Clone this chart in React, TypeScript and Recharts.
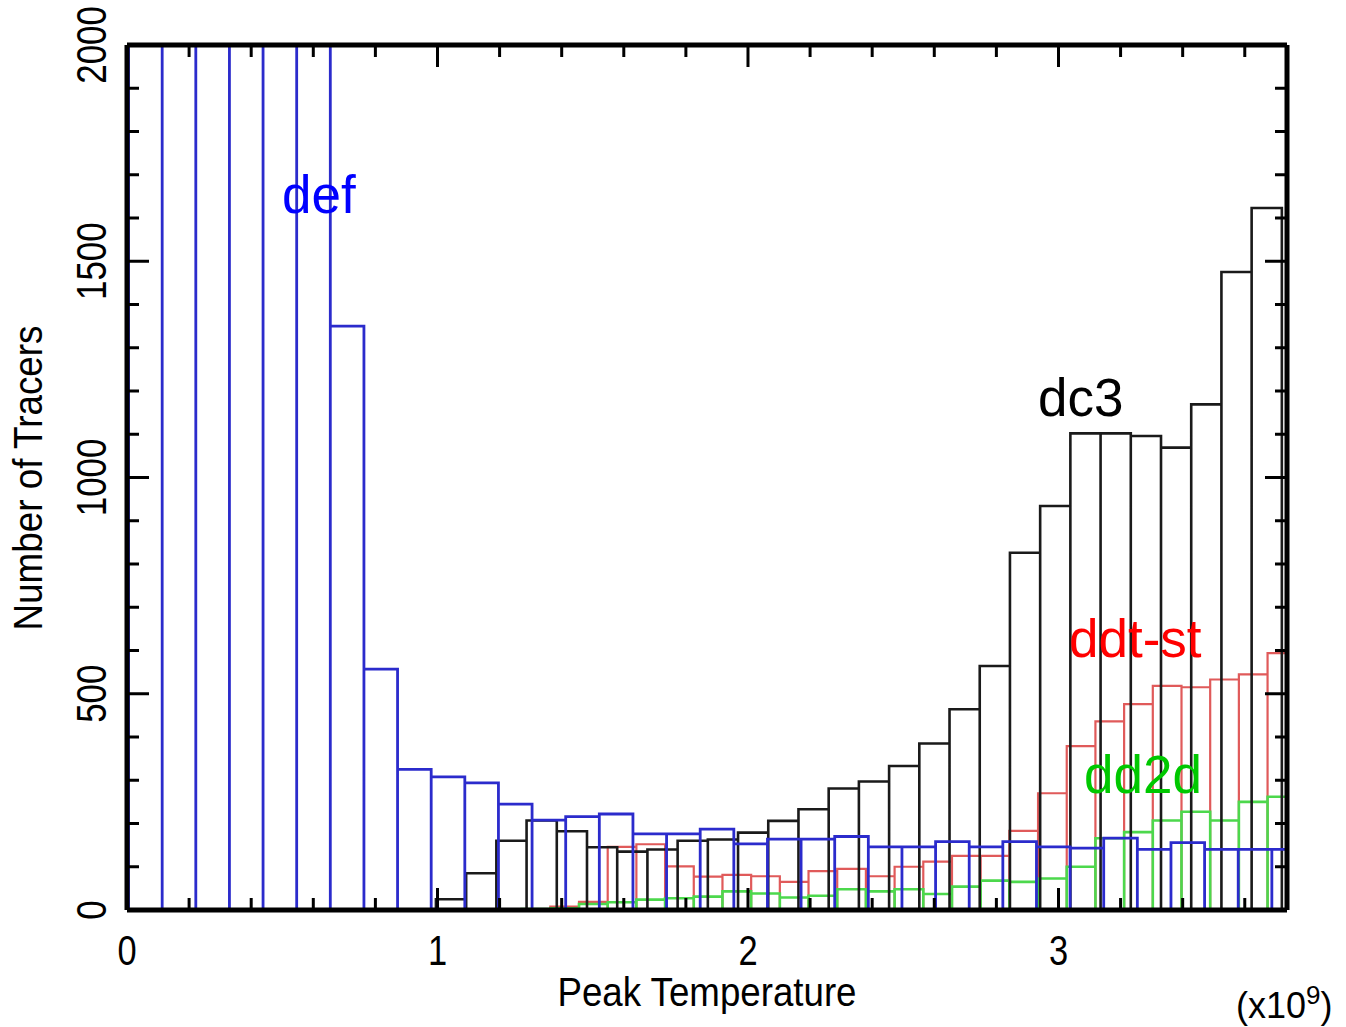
import React from 'react';
import { ComposedChart, Line, XAxis, YAxis } from 'recharts';

// peak temperature in units of 1e9 K
const X_MAX = 3.736;
const Y_MAX = 2000;

// each model was binned on its own grid
const defStart = 0.005;
const defWidth = 0.1083;
const defCounts = [4200, 4600, 4800, 4500, 3900, 3100, 1350, 557, 325, 308, 294, 245, 208, 216, 222, 176, 176, 187, 153, 164, 164, 170, 146, 146, 158, 146, 158, 146, 143, 166, 140, 156, 140, 140, 140];

const dc3Start = 0.995;
const dc3Width = 0.0973;
const dc3Counts = [25, 85, 160, 207, 182, 145, 135, 140, 160, 163, 179, 206, 233, 281, 297, 333, 385, 464, 564, 826, 934, 1102, 1102, 1096, 1069, 1169, 1475, 1623];

// ddt-st and dd2d share the same bins
const ddStart = 1.271;
const ddWidth = 0.0924;
const ddtCounts = [2, 8, 19, 146, 152, 101, 77, 81, 78, 65, 90, 95, 78, 100, 112, 125, 125, 183, 270, 379, 436, 476, 518, 515, 533, 545, 594];
const dd2dCounts = [2, 4, 14, 18, 24, 27, 31, 43, 38, 29, 33, 48, 43, 48, 37, 54, 68, 65, 73, 100, 166, 180, 207, 227, 207, 250, 262];

const xTicks = [0, 0.2, 0.4, 0.6, 0.8, 1, 1.2, 1.4, 1.6, 1.8, 2, 2.2, 2.4, 2.6, 2.8, 3, 3.2, 3.4, 3.6];
const yTicks = [0, 100, 200, 300, 400, 500, 600, 700, 800, 900, 1000, 1100, 1200, 1300, 1400, 1500, 1600, 1700, 1800, 1900, 2000];
const xLabels = [0, 1, 2, 3];
const yLabels = [0, 500, 1000, 1500, 2000];

const FONT = '"Liberation Sans", Arial, sans-serif';

// outline every bin as a box, like the original histogram
function boxes(start: number, width: number, counts: number[]) {
  const pts: { x: number; y: number }[] = [];
  counts.forEach((c, i) => {
    const l = start + i * width;
    const r = l + width;
    pts.push({ x: l, y: 0 }, { x: l, y: c }, { x: r, y: c }, { x: r, y: 0 });
  });
  return pts;
}

const isMajor = (v: number, step: number) => Math.abs(v / step - Math.round(v / step)) < 1e-6;

const BottomTick = (props: any) => {
  const { x, y, payload } = props;
  const major = isMajor(payload.value, 1);
  return (
    <g>
      <line x1={x} y1={y} x2={x} y2={y - (major ? 22 : 12)} stroke="#000" strokeWidth={3} />
      {major && xLabels.includes(Math.round(payload.value)) && (
        <text transform={`translate(${x},${y + 40}) scale(0.82,1)`} textAnchor="middle" dominantBaseline="central"
          fontFamily={FONT} fontSize={42} fill="#000">{Math.round(payload.value)}</text>
      )}
    </g>
  );
};

const TopTick = (props: any) => {
  const { x, y, payload } = props;
  const major = isMajor(payload.value, 1);
  return <line x1={x} y1={y} x2={x} y2={y + (major ? 22 : 12)} stroke="#000" strokeWidth={3} />;
};

const LeftTick = (props: any) => {
  const { x, y, payload } = props;
  const major = isMajor(payload.value, 500);
  return (
    <g>
      <line x1={x} y1={y} x2={x + (major ? 22 : 12)} y2={y} stroke="#000" strokeWidth={3} />
      {major && yLabels.includes(payload.value) && (
        <text transform={`translate(${x - 36},${y}) rotate(-90) scale(0.83,1)`} textAnchor="middle" dominantBaseline="central"
          fontFamily={FONT} fontSize={42} fill="#000">{payload.value}</text>
      )}
    </g>
  );
};

const RightTick = (props: any) => {
  const { x, y, payload } = props;
  const major = isMajor(payload.value, 500);
  return <line x1={x} y1={y} x2={x - (major ? 22 : 12)} y2={y} stroke="#000" strokeWidth={3} />;
};

const frame = { stroke: '#000', strokeWidth: 5 };

export default function App() {
  const dc3Boxes = boxes(dc3Start, dc3Width, dc3Counts);
  return (
    <div style={{ position: 'absolute', left: 0, top: 0, width: 1346, height: 1027, background: '#fff' }}>
      <ComposedChart width={1346} height={1027} margin={{ top: 44, right: 58, bottom: 0, left: 0 }}>
        <XAxis xAxisId="b" dataKey="x" type="number" domain={[0, X_MAX]} allowDataOverflow ticks={xTicks} interval={0}
          tickSize={0} tickMargin={0} tickLine={false} axisLine={frame} height={117} tick={<BottomTick />} />
        <XAxis xAxisId="t" orientation="top" dataKey="x" type="number" domain={[0, X_MAX]} allowDataOverflow ticks={xTicks}
          interval={0} tickSize={0} tickMargin={0} tickLine={false} axisLine={frame} height={1} tick={<TopTick />} />
        <YAxis yAxisId="l" type="number" domain={[0, Y_MAX]} allowDataOverflow ticks={yTicks} interval={0}
          tickSize={0} tickMargin={0} tickLine={false} axisLine={frame} width={127} tick={<LeftTick />} />
        <YAxis yAxisId="r" orientation="right" type="number" domain={[0, Y_MAX]} allowDataOverflow ticks={yTicks}
          interval={0} tickSize={0} tickMargin={0} tickLine={false} axisLine={frame} width={1} tick={<RightTick />} />
        {/* unstroked copy so the top and right frame axes get a domain */}
        <Line xAxisId="t" yAxisId="r" data={dc3Boxes} dataKey="y" type="linear" stroke="none" strokeWidth={0}
          dot={false} activeDot={false} isAnimationActive={false} legendType="none" />
        <Line xAxisId="b" yAxisId="l" data={boxes(ddStart, ddWidth, ddtCounts)} dataKey="y" type="linear" stroke="#e05a5a"
          strokeWidth={2.2} dot={false} activeDot={false} isAnimationActive={false} />
        <Line xAxisId="b" yAxisId="l" data={boxes(ddStart, ddWidth, dd2dCounts)} dataKey="y" type="linear" stroke="#4cd84c"
          strokeWidth={2.6} dot={false} activeDot={false} isAnimationActive={false} />
        <Line xAxisId="b" yAxisId="l" data={dc3Boxes} dataKey="y" type="linear" stroke="#1a1a1a"
          strokeWidth={2.6} dot={false} activeDot={false} isAnimationActive={false} />
        <Line xAxisId="b" yAxisId="l" data={boxes(defStart, defWidth, defCounts)} dataKey="y" type="linear" stroke="#2b2bcc"
          strokeWidth={2.8} dot={false} activeDot={false} isAnimationActive={false} />
      </ComposedChart>
      <svg width={1346} height={1027} style={{ position: 'absolute', left: 0, top: 0, pointerEvents: 'none' }}>
        <text x={282} y={213} fontFamily={FONT} fontSize={53} fill="#0000ff">def</text>
        <text x={1038} y={416} fontFamily={FONT} fontSize={53} fill="#000">dc3</text>
        <text x={1069} y={657} fontFamily={FONT} fontSize={53} fill="#ff0000">ddt-st</text>
        <text x={1084} y={793} fontFamily={FONT} fontSize={53} fill="#00c800">dd2d</text>
        <text transform="translate(42,478) rotate(-90)" textAnchor="middle" fontFamily={FONT} fontSize={40} fill="#000"
          textLength={305} lengthAdjust="spacingAndGlyphs">Number of Tracers</text>
        <text x={707} y={1006} textAnchor="middle" fontFamily={FONT} fontSize={40} fill="#000"
          textLength={299} lengthAdjust="spacingAndGlyphs">Peak Temperature</text>
        <text x={1236} y={1018} fontFamily={FONT} fontSize={36} fill="#000">
          (x10<tspan dy={-14} fontSize={26}>9</tspan><tspan dy={14}>)</tspan>
        </text>
      </svg>
    </div>
  );
}
